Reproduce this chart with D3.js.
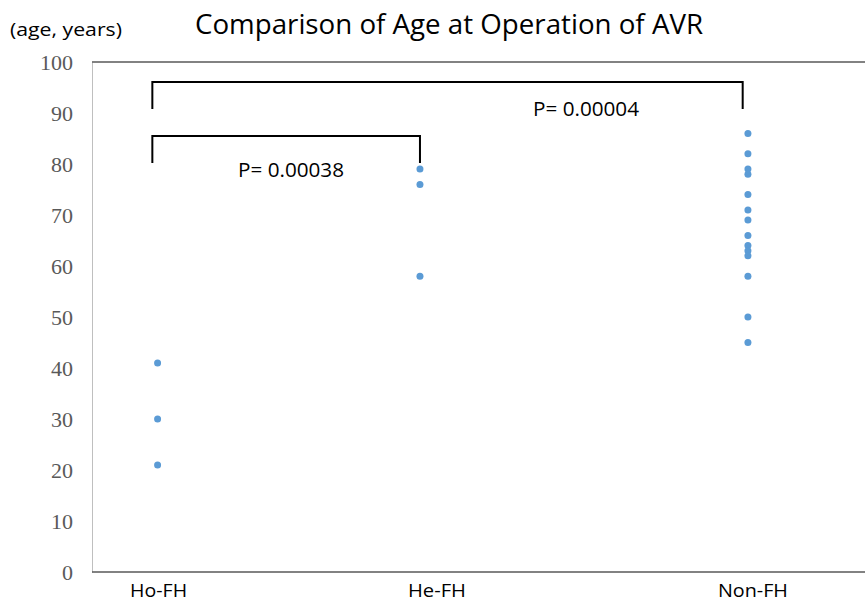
<!DOCTYPE html>
<html>
<head>
<meta charset="utf-8">
<script src="https://cdn.jsdelivr.net/npm/d3@7"></script>
<style>
	body { margin: 0; background: #fff; }
	svg { display: block; }
	.cal { font-family: "Open Sans", "Noto Sans", sans-serif; fill: #000; }
	.ytick { font-family: "Liberation Serif", "DejaVu Serif", serif; fill: #595959; }
</style>
</head>
<body>
<svg></svg>
<script>
var WIDTH = 865;
var HEIGHT = 603;

// groups and where they sit along the x axis
var groups = ['Ho-FH', 'He-FH', 'Non-FH'];
var groupX = [1, 2, 3.25];

// age at operation (years)
var hoFH = [41, 30, 21];
var heFH = [79, 76, 58];
var nonFH = [86, 82, 79, 78, 74, 71, 69, 66, 64, 63, 62, 58, 50, 45];

var yTicks = [0, 10, 20, 30, 40, 50, 60, 70, 80, 90, 100];

// significance brackets: from / to (x units), top / bottom (age units)
var brackets = [
	{from: 0.98, to: 2.0, top: 85.5, bottom: 80.2, label: 'P= 0.00038'},
	{from: 0.98, to: 3.23, top: 96.1, bottom: 90.8, label: 'P= 0.00004'}
];

var points = [];
[hoFH, heFH, nonFH].forEach(function(list, i){
	list.forEach(function(age){
		points.push({x: groupX[i], age: age});
	});
});

var svg = d3.select('svg')
	.attr('width', WIDTH)
	.attr('height', HEIGHT);

var xScale = d3.scaleLinear().domain([0.75, 3.7]).range([92, 866]);
var yScale = d3.scaleLinear().domain([0, 100]).range([572, 62]);

// left axis: light grey line plus serif labels
var leftAxis = d3.axisLeft(yScale)
	.tickValues(yTicks)
	.tickSize(0)
	.tickPadding(19)
	.tickFormat(d3.format('d'));
var yAxisG = svg.append('g')
	.attr('transform', 'translate(92,0)')
	.call(leftAxis);
yAxisG.select('.domain').attr('stroke', '#bfbfbf').attr('stroke-width', 1);
yAxisG.selectAll('text')
	.attr('class', 'ytick')
	.attr('font-size', 22)
	.attr('dy', '0.35em');

// top and bottom frame lines
svg.append('line')
	.attr('x1', 92).attr('x2', WIDTH)
	.attr('y1', yScale(100)).attr('y2', yScale(100))
	.attr('stroke', '#595959').attr('stroke-width', 1.5);
svg.append('line')
	.attr('x1', 92).attr('x2', WIDTH)
	.attr('y1', yScale(0)).attr('y2', yScale(0))
	.attr('stroke', '#595959').attr('stroke-width', 1.5);

// group labels under the plot
var labelNudge = [1, 17, 5];
var labelWidth = [57, 58, 70];
svg.append('g').selectAll('text')
	.data(groups)
	.enter()
	.append('text')
	.attr('class', 'cal')
	.attr('x', function(d, i){ return xScale(groupX[i]) + labelNudge[i]; })
	.attr('y', 597)
	.attr('text-anchor', 'middle')
	.attr('font-size', 19)
	.attr('textLength', function(d, i){ return labelWidth[i]; })
	.attr('lengthAdjust', 'spacingAndGlyphs')
	.text(function(d){ return d; });

// dots
svg.append('g').selectAll('circle')
	.data(points)
	.enter()
	.append('circle')
	.attr('cx', function(d){ return xScale(d.x); })
	.attr('cy', function(d){ return yScale(d.age); })
	.attr('r', 3.5)
	.attr('fill', '#5b9bd5');

// brackets
var bracketLabelPos = [{x: 291, y: 177}, {x: 586, y: 116}];
var bg = svg.append('g');
bg.selectAll('path')
	.data(brackets)
	.enter()
	.append('path')
	.attr('fill', 'none')
	.attr('stroke', '#000')
	.attr('stroke-width', 2)
	.attr('d', function(d){
		return 'M' + xScale(d.from) + ',' + yScale(d.bottom) +
			'V' + yScale(d.top) +
			'H' + xScale(d.to) +
			'V' + yScale(d.bottom);
	});
bg.selectAll('text')
	.data(brackets)
	.enter()
	.append('text')
	.attr('class', 'cal')
	.attr('x', function(d, i){ return bracketLabelPos[i].x; })
	.attr('y', function(d, i){ return bracketLabelPos[i].y; })
	.attr('text-anchor', 'middle')
	.attr('font-size', 20)
	.attr('textLength', 106)
	.attr('lengthAdjust', 'spacingAndGlyphs')
	.text(function(d){ return d.label; });

// title and unit
svg.append('text')
	.attr('class', 'cal')
	.attr('x', 449).attr('y', 34)
	.attr('text-anchor', 'middle')
	.attr('font-size', 27)
	.attr('textLength', 508)
	.attr('lengthAdjust', 'spacingAndGlyphs')
	.text('Comparison of Age at Operation of AVR');
svg.append('text')
	.attr('class', 'cal')
	.attr('x', 66).attr('y', 36)
	.attr('text-anchor', 'middle')
	.attr('font-size', 19)
	.attr('textLength', 112)
	.attr('lengthAdjust', 'spacingAndGlyphs')
	.text('(age, years)');
</script>
</body>
</html>
